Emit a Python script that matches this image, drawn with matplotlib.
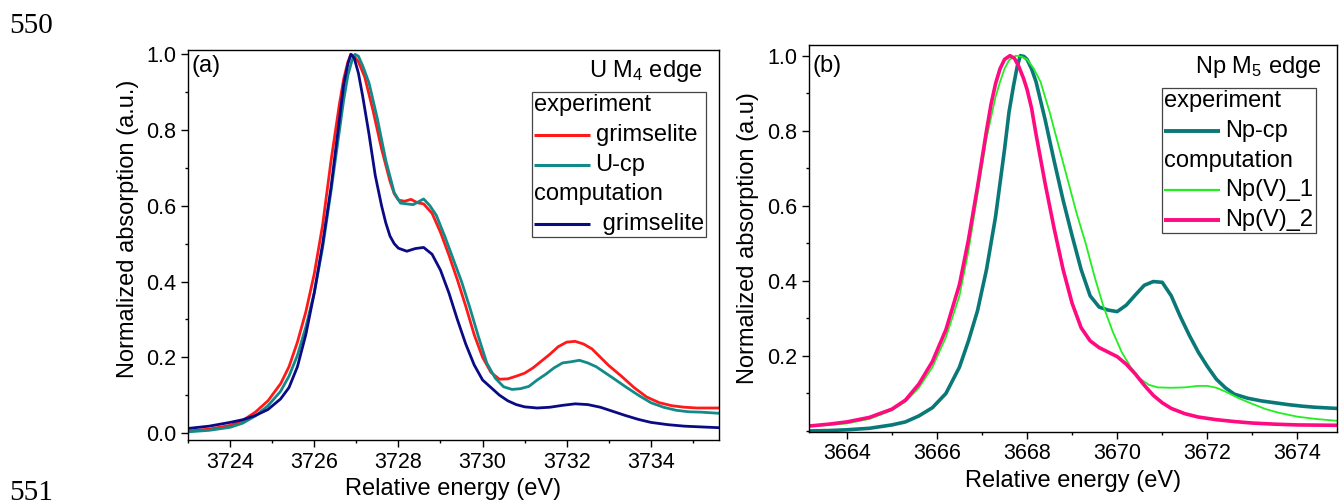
import matplotlib
matplotlib.use("Agg")
import matplotlib.pyplot as plt
from matplotlib.lines import Line2D
from matplotlib.offsetbox import AnchoredOffsetbox, VPacker, HPacker, TextArea, DrawingArea
from matplotlib.ticker import MultipleLocator

plt.rcParams['font.family'] = ['Liberation Sans', 'DejaVu Sans']
plt.rcParams['mathtext.fontset'] = 'custom'
plt.rcParams['mathtext.rm'] = 'Liberation Sans'
plt.rcParams['mathtext.it'] = 'Liberation Sans:italic'

# ---- panel (a): U M4 edge ----
e_grim_exp = [3723.0, 3723.5, 3724.0, 3724.3, 3724.6, 3724.9, 3725.2, 3725.4, 3725.6, 3725.8,
              3726.0, 3726.2, 3726.4, 3726.6, 3726.7, 3726.8, 3726.87, 3726.95, 3727.05, 3727.2,
              3727.4, 3727.6, 3727.8, 3727.9, 3728.0, 3728.15, 3728.3, 3728.45, 3728.6, 3728.8,
              3729.0, 3729.2, 3729.4, 3729.6, 3729.8, 3730.0, 3730.2, 3730.4, 3730.6, 3730.8,
              3731.0, 3731.2, 3731.4, 3731.6, 3731.8, 3732.0, 3732.2, 3732.4, 3732.6, 3732.8,
              3733.0, 3733.3, 3733.6, 3733.9, 3734.2, 3734.5, 3734.8, 3735.1, 3735.4, 3735.62]
v_grim_exp = [0.005, 0.010, 0.020, 0.033, 0.055, 0.085, 0.13, 0.175, 0.24, 0.32,
              0.42, 0.55, 0.72, 0.87, 0.935, 0.98, 1.0, 0.995, 0.98, 0.94,
              0.85, 0.75, 0.665, 0.632, 0.615, 0.612, 0.617, 0.608, 0.605, 0.58,
              0.53, 0.47, 0.405, 0.335, 0.26, 0.20, 0.16, 0.142, 0.143, 0.15,
              0.158, 0.172, 0.19, 0.208, 0.228, 0.24, 0.242, 0.235, 0.222, 0.2,
              0.178, 0.15, 0.12, 0.095, 0.08, 0.072, 0.068, 0.066, 0.066, 0.066]

e_ucp = [3723.0, 3723.5, 3724.0, 3724.3, 3724.6, 3724.9, 3725.2, 3725.4, 3725.6, 3725.8,
         3726.0, 3726.2, 3726.4, 3726.6, 3726.7, 3726.8, 3726.9, 3726.97, 3727.05, 3727.15,
         3727.3, 3727.5, 3727.7, 3727.9, 3728.05, 3728.2, 3728.35, 3728.5, 3728.6, 3728.75,
         3728.9, 3729.1, 3729.3, 3729.5, 3729.7, 3729.9, 3730.1, 3730.3, 3730.5, 3730.7,
         3730.9, 3731.1, 3731.3, 3731.5, 3731.7, 3731.9, 3732.1, 3732.3, 3732.5, 3732.7,
         3732.9, 3733.1, 3733.4, 3733.7, 3734.0, 3734.3, 3734.6, 3734.9, 3735.2, 3735.62]
v_ucp = [0.003, 0.007, 0.015, 0.026, 0.045, 0.072, 0.11, 0.15, 0.205, 0.28,
         0.37, 0.49, 0.64, 0.80, 0.88, 0.945, 0.985, 1.0, 0.995, 0.97,
         0.925, 0.83, 0.72, 0.635, 0.607, 0.605, 0.603, 0.612, 0.618, 0.6,
         0.575, 0.52, 0.46, 0.40, 0.33, 0.255, 0.185, 0.145, 0.122, 0.115,
         0.117, 0.123, 0.14, 0.155, 0.172, 0.185, 0.188, 0.192, 0.185, 0.175,
         0.16, 0.145, 0.122, 0.1, 0.08, 0.068, 0.06, 0.056, 0.055, 0.052]

e_grim_calc = [3723.0, 3723.5, 3724.0, 3724.3, 3724.6, 3724.9, 3725.2, 3725.4, 3725.6, 3725.8,
               3726.0, 3726.2, 3726.4, 3726.6, 3726.7, 3726.8, 3726.87, 3726.95, 3727.05, 3727.15,
               3727.3, 3727.45, 3727.6, 3727.7, 3727.8, 3727.9, 3728.0, 3728.2, 3728.4, 3728.6,
               3728.8, 3729.0, 3729.2, 3729.4, 3729.6, 3729.8, 3730.0, 3730.2, 3730.4, 3730.6,
               3730.8, 3731.0, 3731.3, 3731.6, 3731.9, 3732.2, 3732.5, 3732.8, 3733.1, 3733.4,
               3733.7, 3734.0, 3734.4, 3734.8, 3735.2, 3735.62]
v_grim_calc = [0.012, 0.018, 0.028, 0.035, 0.046, 0.062, 0.09, 0.12, 0.175, 0.26,
               0.37, 0.5, 0.65, 0.83, 0.92, 0.975, 1.0, 0.99, 0.95, 0.89,
               0.79, 0.68, 0.6, 0.555, 0.52, 0.5, 0.488, 0.48, 0.487, 0.49,
               0.472, 0.43, 0.37, 0.3, 0.235, 0.18, 0.14, 0.12, 0.1, 0.085,
               0.075, 0.069, 0.066, 0.068, 0.073, 0.077, 0.075, 0.068, 0.057, 0.046,
               0.036, 0.028, 0.022, 0.018, 0.016, 0.014]

# ---- panel (b): Np M5 edge ----
e_npcp = [3663.16, 3663.6, 3664.0, 3664.5, 3665.0, 3665.3, 3665.6, 3665.9, 3666.2, 3666.5,
          3666.7, 3666.9, 3667.1, 3667.3, 3667.5, 3667.6, 3667.7, 3667.78, 3667.85, 3667.93,
          3668.0, 3668.1, 3668.2, 3668.4, 3668.6, 3668.8, 3669.0, 3669.2, 3669.4, 3669.6,
          3669.8, 3670.0, 3670.2, 3670.4, 3670.6, 3670.8, 3671.0, 3671.2, 3671.4, 3671.6,
          3671.8, 3672.0, 3672.2, 3672.4, 3672.6, 3672.9, 3673.2, 3673.5, 3673.8, 3674.1,
          3674.4, 3674.87]
v_npcp = [0.0, 0.001, 0.003, 0.007, 0.016, 0.024, 0.04, 0.062, 0.1, 0.17,
          0.24, 0.32, 0.43, 0.57, 0.75, 0.85, 0.92, 0.97, 1.0, 0.998,
          0.99, 0.965, 0.93, 0.83, 0.72, 0.615, 0.52, 0.43, 0.36, 0.33,
          0.322, 0.318, 0.335, 0.362, 0.388, 0.398, 0.396, 0.36, 0.305, 0.255,
          0.21, 0.172, 0.138, 0.115, 0.098, 0.087, 0.08, 0.075, 0.07, 0.066,
          0.063, 0.06]

e_npv1 = [3663.16, 3663.6, 3664.0, 3664.5, 3665.0, 3665.3, 3665.6, 3665.9, 3666.2, 3666.5,
          3666.7, 3666.9, 3667.1, 3667.3, 3667.4, 3667.5, 3667.6, 3667.75, 3667.88, 3668.0,
          3668.15, 3668.3, 3668.5, 3668.7, 3668.9, 3669.1, 3669.3, 3669.5, 3669.7, 3669.9,
          3670.1, 3670.3, 3670.5, 3670.7, 3670.9, 3671.2, 3671.5, 3671.8, 3672.0, 3672.2,
          3672.4, 3672.7, 3673.0, 3673.3, 3673.6, 3674.0, 3674.4, 3674.87]
v_npv1 = [0.012, 0.016, 0.02, 0.032, 0.055, 0.078, 0.115, 0.17, 0.25, 0.36,
          0.48, 0.63, 0.78, 0.89, 0.93, 0.965, 0.988, 1.0, 0.997, 0.99,
          0.965, 0.93, 0.85, 0.76, 0.67, 0.58, 0.5, 0.41, 0.33, 0.265,
          0.21, 0.17, 0.14, 0.123, 0.116, 0.115, 0.116, 0.12, 0.12, 0.115,
          0.105, 0.087, 0.072, 0.058, 0.048, 0.038, 0.032, 0.027]

e_npv2 = [3663.16, 3663.6, 3664.0, 3664.5, 3665.0, 3665.3, 3665.6, 3665.9, 3666.2, 3666.5,
          3666.7, 3666.9, 3667.1, 3667.2, 3667.3, 3667.4, 3667.5, 3667.62, 3667.72, 3667.82,
          3667.92, 3668.0, 3668.1, 3668.2, 3668.4, 3668.6, 3668.8, 3669.0, 3669.2, 3669.4,
          3669.6, 3669.8, 3670.0, 3670.2, 3670.4, 3670.6, 3670.8, 3671.0, 3671.2, 3671.5,
          3671.8, 3672.2, 3672.6, 3673.0, 3673.5, 3674.0, 3674.87]
v_npv2 = [0.013, 0.018, 0.024, 0.036, 0.058, 0.082, 0.125, 0.185, 0.27, 0.39,
          0.51, 0.65, 0.8, 0.87, 0.925, 0.965, 0.99, 1.0, 0.993, 0.97,
          0.94, 0.91, 0.86, 0.79, 0.66, 0.54, 0.43, 0.34, 0.275, 0.24,
          0.222, 0.21, 0.198, 0.178, 0.152, 0.122, 0.095, 0.075, 0.06, 0.046,
          0.037, 0.03, 0.025, 0.021, 0.018, 0.016, 0.015]

RED = '#ff1a1a'
TEAL_A = '#138a8a'
NAVY = '#0a0a85'
TEAL_B = '#0b7878'
GREEN = '#22ee22'
PINK = '#ff0a80'

FS_TICK = 15.5
FS_LAB = 17
FS_LEG = 17


def style_axes(ax):
    for s in ax.spines.values():
        s.set_linewidth(1.0)
    ax.tick_params(which='major', direction='out', length=5, width=1.0,
                   labelsize=FS_TICK, pad=3.5)
    ax.tick_params(which='minor', direction='out', length=2.5, width=1.0)
    ax.xaxis.set_major_locator(MultipleLocator(2))
    ax.xaxis.set_minor_locator(MultipleLocator(1))
    ax.yaxis.set_minor_locator(MultipleLocator(0.1))


def legend_box(ax, rows, x, y):
    children = []
    for label, color, lw in rows:
        txt = TextArea(label, textprops=dict(size=FS_LEG))
        if color is None:
            children.append(txt)
        else:
            da = DrawingArea(40, 8, 0, 0)
            da.add_artist(Line2D([0, 40], [4, 4], color=color, lw=lw,
                                 solid_capstyle='butt'))
            children.append(HPacker(children=[da, txt], pad=0, sep=4, align='center'))
    pack = VPacker(children=children, pad=0, sep=5.5, align='left')
    box = AnchoredOffsetbox(loc='upper left', child=pack, pad=0.1, borderpad=0,
                            frameon=True, bbox_to_anchor=(x, y),
                            bbox_transform=ax.transAxes, prop=dict(size=FS_LEG))
    box.patch.set_boxstyle('square', pad=0)
    box.patch.set_edgecolor('#444444')
    box.patch.set_linewidth(0.9)
    ax.add_artist(box)


fig = plt.figure(figsize=(13.42, 5.04), dpi=100)

# panel (a)
ax1 = fig.add_axes([0.1401, 0.127, 0.3957, 0.7738])
ax1.plot(e_grim_exp, v_grim_exp, color=RED, lw=2.0)
ax1.plot(e_ucp, v_ucp, color=TEAL_A, lw=2.0)
ax1.plot(e_grim_calc, v_grim_calc, color=NAVY, lw=2.0)
ax1.set_xlim(3723.0, 3735.62)
ax1.set_ylim(-0.0185, 1.0114)
ax1.set_yticks([0.0, 0.2, 0.4, 0.6, 0.8, 1.0])
style_axes(ax1)
ax1.set_xlabel('Relative energy (eV)', fontsize=FS_LAB)
ax1.set_ylabel('Normalized absorption (a.u.)', fontsize=FS_LAB)
ax1.xaxis.set_label_coords(0.5, -0.098)
ax1.yaxis.set_label_coords(-0.093, 0.541)
ax1.text(0.0075, 0.987, '(a)', transform=ax1.transAxes, fontsize=17,
         ha='left', va='top')
ax1.text(0.968, 0.9315, 'U M$_4$ edge', transform=ax1.transAxes, fontsize=17,
         ha='right', va='baseline')
legend_box(ax1, [('experiment', None, 0),
                 ('grimselite', RED, 2.2),
                 ('U-cp', TEAL_A, 2.2),
                 ('computation', None, 0),
                 (' grimselite', NAVY, 2.2)], 0.648, 0.892)

# panel (b)
ax2 = fig.add_axes([0.6028, 0.1435, 0.3932, 0.7673])
ax2.plot(e_npcp, v_npcp, color=TEAL_B, lw=2.6)
ax2.plot(e_npv1, v_npv1, color=GREEN, lw=1.3)
ax2.plot(e_npv2, v_npv2, color=PINK, lw=2.6)
ax2.set_xlim(3663.16, 3674.87)
ax2.set_ylim(-0.002, 1.0285)
ax2.set_yticks([0.2, 0.4, 0.6, 0.8, 1.0])
style_axes(ax2)
ax2.set_xlabel('Relative energy (eV)', fontsize=FS_LAB)
ax2.set_ylabel('Normalized absorption (a.u)', fontsize=FS_LAB)
ax2.xaxis.set_label_coords(0.5, -0.100)
ax2.yaxis.set_label_coords(-0.094, 0.5)
ax2.text(0.006, 0.974, '(b)', transform=ax2.transAxes, fontsize=17,
         ha='left', va='top')
ax2.text(0.9716, 0.9268, 'Np M$_5$ edge', transform=ax2.transAxes, fontsize=17,
         ha='right', va='baseline')
legend_box(ax2, [('experiment', None, 0),
                 ('Np-cp', TEAL_B, 2.8),
                 ('computation', None, 0),
                 ('Np(V)_1', GREEN, 1.6),
                 ('Np(V)_2', PINK, 2.8)], 0.669, 0.889)

# manuscript line numbers
fig.text(9 / 1342, 0.9345, '550', family='Liberation Serif', fontsize=21, va='baseline')
fig.text(9 / 1342, 0.008, '551', family='Liberation Serif', fontsize=21, va='baseline')

fig.savefig('out.png', dpi=100)
